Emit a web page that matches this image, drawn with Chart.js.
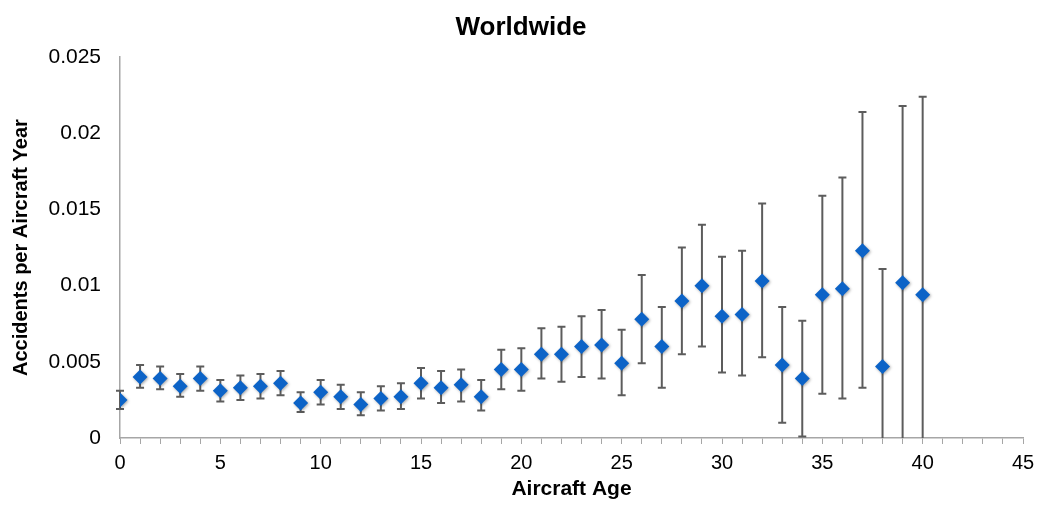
<!DOCTYPE html>
<html>
<head>
<meta charset="utf-8">
<script src="https://cdn.jsdelivr.net/npm/chart.js@4"></script>
<style>
  html, body { margin: 0; padding: 0; background: #fff; }
  #wrap { width: 1042px; height: 506px; }
</style>
</head>
<body>
<div id="wrap"><canvas id="chart"></canvas></div>
<script>
// --- Data ---
const ages = [0, 1, 2, 3, 4, 5, 6, 7, 8, 9, 10, 11, 12, 13, 14, 15, 16, 17, 18, 19, 20,
              21, 22, 23, 24, 25, 26, 27, 28, 29, 30, 31, 32, 33, 34, 35, 36, 37, 38, 39, 40];
const rates = [0.0025, 0.0040, 0.0039, 0.0034, 0.0039, 0.0031, 0.0033, 0.0034, 0.0036, 0.0023, 0.0030,
               0.0027, 0.0022, 0.0026, 0.0027, 0.0036, 0.0033, 0.0035, 0.0027, 0.0045, 0.0045,
               0.0055, 0.0055, 0.0060, 0.0061, 0.0049, 0.0078, 0.0060, 0.0090, 0.0100, 0.0080,
               0.0081, 0.0103, 0.0048, 0.0039, 0.0094, 0.0098, 0.0123, 0.0047, 0.0102, 0.0094];
const upper = [0.0031, 0.0048, 0.0047, 0.0042, 0.0047, 0.0038, 0.0041, 0.0042, 0.0044, 0.0030, 0.0038,
               0.0035, 0.0030, 0.0034, 0.0036, 0.0046, 0.0044, 0.0045, 0.0038, 0.0058, 0.0059,
               0.0072, 0.0073, 0.0080, 0.0084, 0.0071, 0.0107, 0.0086, 0.0125, 0.0140, 0.0119,
               0.0123, 0.0154, 0.0086, 0.0077, 0.0159, 0.0171, 0.0214, 0.0111, 0.0218, 0.0224];
const lower = [0.0019, 0.0033, 0.0032, 0.0027, 0.0031, 0.0024, 0.0025, 0.0026, 0.0028, 0.0017, 0.0022,
               0.0019, 0.0015, 0.0018, 0.0019, 0.0026, 0.0023, 0.0024, 0.0018, 0.0032, 0.0031,
               0.0039, 0.0037, 0.0040, 0.0039, 0.0028, 0.0049, 0.0033, 0.0055, 0.0060, 0.0043,
               0.0041, 0.0053, 0.0010, 0.0001, 0.0029, 0.0026, 0.0033, -0.002, -0.002, -0.002];
const yTickLabels = ['0', '0.005', '0.01', '0.015', '0.02', '0.025'];

const points = ages.map((a, i) => ({ x: a, y: rates[i] }));

// Error bars drawn behind the markers, clipped at the x axis
const errorBars = {
    id: 'errorBars',
    beforeDatasetsDraw(chart) {
        const { ctx, chartArea, scales: { x, y } } = chart;
        ctx.save();
        ctx.beginPath();
        ctx.rect(chartArea.left - 10, chartArea.top - 10, chartArea.width + 20, chartArea.height + 10);
        ctx.clip();
        ctx.strokeStyle = '#5c5c5c';
        ctx.lineWidth = 2;
        ages.forEach((a, i) => {
            const px = x.getPixelForValue(a);
            const top = y.getPixelForValue(upper[i]);
            const bot = y.getPixelForValue(lower[i]);
            ctx.beginPath();
            ctx.moveTo(px, top);
            ctx.lineTo(px, bot);
            ctx.moveTo(px - 4, top);
            ctx.lineTo(px + 4, top);
            ctx.moveTo(px - 4, bot);
            ctx.lineTo(px + 4, bot);
            ctx.stroke();
        });
        ctx.restore();
        // soft shadow for the diamonds
        ctx.save();
        ctx.shadowColor = 'rgba(0,0,0,0.35)';
        ctx.shadowBlur = 3;
        ctx.shadowOffsetX = 1;
        ctx.shadowOffsetY = 1;
    },
    afterDatasetsDraw(chart) {
        chart.ctx.restore();
    }
};

const font = 'Liberation Sans, Arial, sans-serif';

new Chart(document.getElementById('chart'), {
    type: 'scatter',
    data: {
        datasets: [{
            data: points,
            pointStyle: 'rectRot',
            pointRadius: 7.5,
            pointHoverRadius: 7.5,
            backgroundColor: '#0c63c7',
            borderColor: '#0c63c7',
            borderWidth: 0
        }]
    },
    options: {
        responsive: true,
        maintainAspectRatio: false,
        animation: false,
        layout: { padding: { top: 0, right: 0, bottom: 4, left: 0 } },
        plugins: {
            legend: { display: false },
            tooltip: { enabled: false },
            title: {
                display: true,
                text: 'Worldwide',
                color: '#000',
                font: { family: font, size: 26, weight: 'bold' },
                padding: { top: 12, bottom: 14 }
            }
        },
        scales: {
            x: {
                type: 'linear',
                min: 0,
                max: 45,
                ticks: {
                    stepSize: 1,
                    autoSkip: false,
                    maxRotation: 0,
                    color: '#000',
                    font: { family: font, size: 20 },
                    padding: 7,
                    callback: (v) => (v % 5 === 0 ? String(v) : '')
                },
                grid: { drawOnChartArea: false, color: '#a6a6a6', tickLength: 6 },
                border: { color: '#a6a6a6', width: 1.5 },
                title: {
                    display: true,
                    text: 'Aircraft Age',
                    color: '#000',
                    font: { family: font, size: 21, weight: 'bold' },
                    padding: { top: 2, bottom: 0 }
                },
                afterFit: (s) => { s.height = 64; }
            },
            y: {
                min: 0,
                max: 0.025,
                ticks: {
                    stepSize: 0.005,
                    color: '#000',
                    font: { family: font, size: 21 },
                    padding: 19,
                    callback: (v) => yTickLabels[Math.round(v / 0.005)]
                },
                grid: { display: false, drawTicks: false },
                border: { color: '#a6a6a6', width: 1.5 },
                title: {
                    display: true,
                    text: 'Accidents per Aircraft Year',
                    color: '#000',
                    font: { family: font, size: 20, weight: 'bold' },
                    padding: { top: 9, bottom: 0 }
                },
                afterFit: (s) => { s.width = 120; }
            },
            // empty right-hand strip so the plot ends where the reference does
            yRight: {
                position: 'right',
                min: 0,
                max: 0.025,
                ticks: { display: false },
                grid: { display: false, drawTicks: false },
                border: { display: false },
                afterFit: (s) => { s.width = 19; }
            }
        }
    },
    plugins: [errorBars]
});
</script>
</body>
</html>
